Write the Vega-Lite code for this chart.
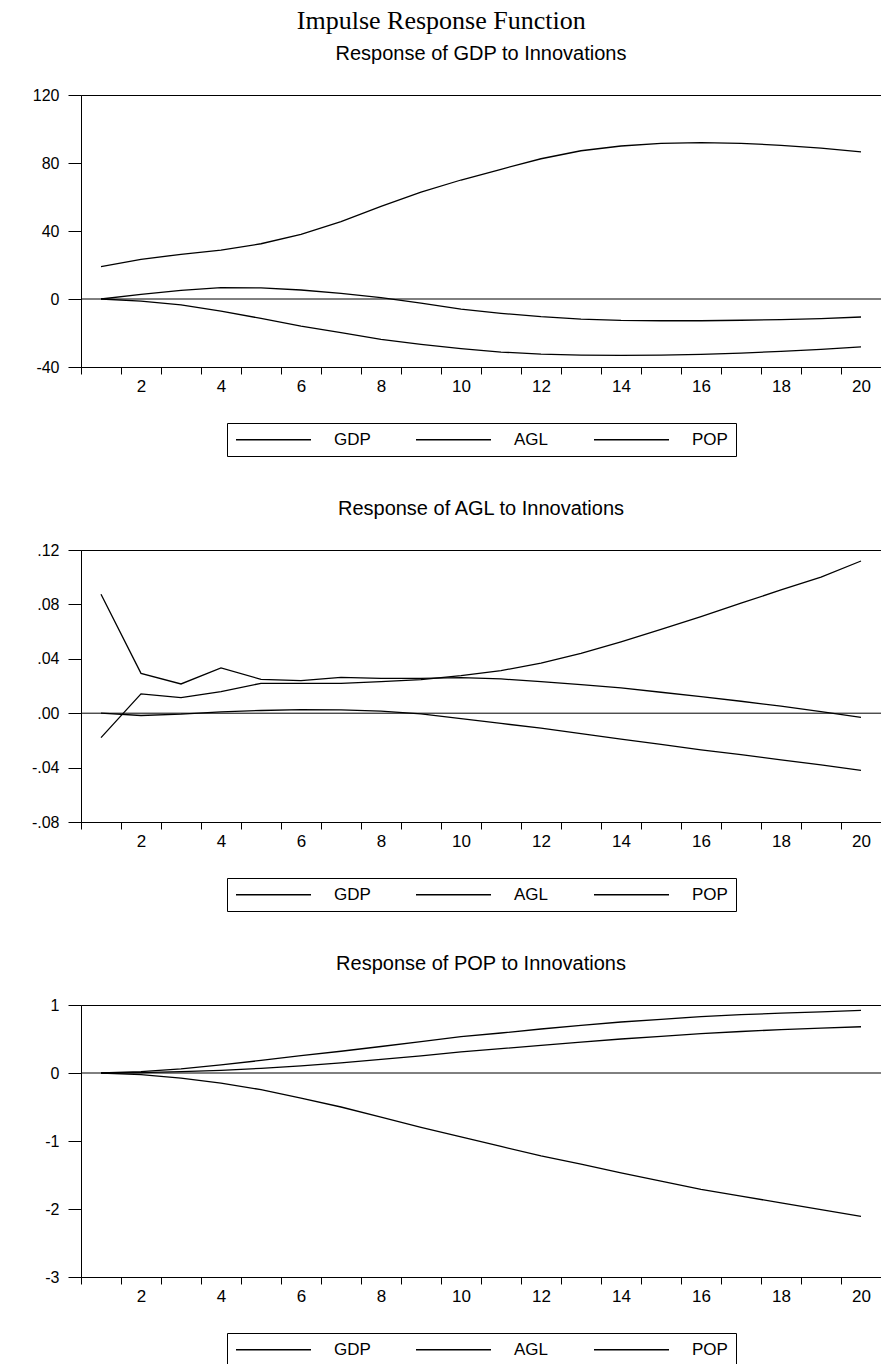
{
  "$schema": "https://vega.github.io/schema/vega-lite/v6.json",
  "background": "white",
  "padding": {"left": 0, "top": 7, "right": 1, "bottom": 0},
  "title": {"text": "Impulse Response Function", "font": "Liberation Serif", "fontSize": 26, "fontWeight": "normal", "color": "black", "anchor": "middle", "frame": "bounds", "offset": 10},
  "config": {
    "view": {"stroke": "black", "strokeWidth": 1},
    "title": {"font": "Liberation Sans", "fontSize": 20, "fontWeight": "normal", "color": "black", "anchor": "middle", "baseline": "alphabetic", "offset": 23},
    "axis": {"domainColor": "black", "domainWidth": 1, "tickColor": "black", "tickWidth": 1, "labelColor": "black", "labelFont": "Liberation Sans", "grid": false, "title": null},
    "axisY": {"tickSize": 13, "labelPadding": 9, "labelFontSize": 16, "minExtent": 80, "maxExtent": 80},
    "axisX": {"tickSize": 7, "labelPadding": 4, "labelFontSize": 17, "labelAngle": 0, "tickBand": "extent", "labelExpr": "datum.value % 2 == 0 ? datum.label : ''"},
    "legend": {"orient": "bottom", "direction": "horizontal", "columns": 3, "title": null, "symbolType": "M-5,0H5", "symbolSize": 225, "symbolOffset": 30, "symbolStrokeWidth": 1.3, "symbolStrokeColor": "black", "symbolFillColor": "transparent", "strokeColor": "black", "fillColor": "white", "padding": 8, "labelFont": "Liberation Sans", "labelFontSize": 17, "labelColor": "black", "labelOffset": 52, "columnPadding": 42, "offset": 29, "layout": {"bottom": {"anchor": "middle"}}},
    "line": {"strokeWidth": 1.3}
  },
  "resolve": {"scale": {"color": "independent"}, "legend": {"color": "independent"}},
  "datasets": {
    "gdp": [
      {"period": 1, "shock": "GDP", "value": 19.0}, {"period": 2, "shock": "GDP", "value": 23.3}, {"period": 3, "shock": "GDP", "value": 26.3}, {"period": 4, "shock": "GDP", "value": 28.8}, {"period": 5, "shock": "GDP", "value": 32.5},
      {"period": 6, "shock": "GDP", "value": 38.0}, {"period": 7, "shock": "GDP", "value": 45.5}, {"period": 8, "shock": "GDP", "value": 54.5}, {"period": 9, "shock": "GDP", "value": 62.8}, {"period": 10, "shock": "GDP", "value": 70.0},
      {"period": 11, "shock": "GDP", "value": 76.3}, {"period": 12, "shock": "GDP", "value": 82.5}, {"period": 13, "shock": "GDP", "value": 87.2}, {"period": 14, "shock": "GDP", "value": 90.0}, {"period": 15, "shock": "GDP", "value": 91.6},
      {"period": 16, "shock": "GDP", "value": 92.0}, {"period": 17, "shock": "GDP", "value": 91.6}, {"period": 18, "shock": "GDP", "value": 90.4}, {"period": 19, "shock": "GDP", "value": 88.8}, {"period": 20, "shock": "GDP", "value": 86.5},
      {"period": 1, "shock": "AGL", "value": 0}, {"period": 2, "shock": "AGL", "value": 2.7}, {"period": 3, "shock": "AGL", "value": 5.1}, {"period": 4, "shock": "AGL", "value": 6.7}, {"period": 5, "shock": "AGL", "value": 6.5},
      {"period": 6, "shock": "AGL", "value": 5.3}, {"period": 7, "shock": "AGL", "value": 3.3}, {"period": 8, "shock": "AGL", "value": 0.8}, {"period": 9, "shock": "AGL", "value": -2.4}, {"period": 10, "shock": "AGL", "value": -5.9},
      {"period": 11, "shock": "AGL", "value": -8.4}, {"period": 12, "shock": "AGL", "value": -10.4}, {"period": 13, "shock": "AGL", "value": -11.8}, {"period": 14, "shock": "AGL", "value": -12.6}, {"period": 15, "shock": "AGL", "value": -12.8},
      {"period": 16, "shock": "AGL", "value": -12.8}, {"period": 17, "shock": "AGL", "value": -12.5}, {"period": 18, "shock": "AGL", "value": -12.1}, {"period": 19, "shock": "AGL", "value": -11.5}, {"period": 20, "shock": "AGL", "value": -10.6},
      {"period": 1, "shock": "POP", "value": 0}, {"period": 2, "shock": "POP", "value": -1.2}, {"period": 3, "shock": "POP", "value": -3.5}, {"period": 4, "shock": "POP", "value": -7.1}, {"period": 5, "shock": "POP", "value": -11.4},
      {"period": 6, "shock": "POP", "value": -15.9}, {"period": 7, "shock": "POP", "value": -19.8}, {"period": 8, "shock": "POP", "value": -23.7}, {"period": 9, "shock": "POP", "value": -26.7}, {"period": 10, "shock": "POP", "value": -29.2},
      {"period": 11, "shock": "POP", "value": -31.2}, {"period": 12, "shock": "POP", "value": -32.4}, {"period": 13, "shock": "POP", "value": -33.0}, {"period": 14, "shock": "POP", "value": -33.2}, {"period": 15, "shock": "POP", "value": -33.0},
      {"period": 16, "shock": "POP", "value": -32.6}, {"period": 17, "shock": "POP", "value": -31.8}, {"period": 18, "shock": "POP", "value": -30.8}, {"period": 19, "shock": "POP", "value": -29.6}, {"period": 20, "shock": "POP", "value": -28.2}
    ],
    "agl": [
      {"period": 1, "shock": "GDP", "value": -0.018}, {"period": 2, "shock": "GDP", "value": 0.0142}, {"period": 3, "shock": "GDP", "value": 0.0115}, {"period": 4, "shock": "GDP", "value": 0.0159}, {"period": 5, "shock": "GDP", "value": 0.022},
      {"period": 6, "shock": "GDP", "value": 0.022}, {"period": 7, "shock": "GDP", "value": 0.022}, {"period": 8, "shock": "GDP", "value": 0.0232}, {"period": 9, "shock": "GDP", "value": 0.0247}, {"period": 10, "shock": "GDP", "value": 0.0276},
      {"period": 11, "shock": "GDP", "value": 0.0313}, {"period": 12, "shock": "GDP", "value": 0.0369}, {"period": 13, "shock": "GDP", "value": 0.044}, {"period": 14, "shock": "GDP", "value": 0.0525}, {"period": 15, "shock": "GDP", "value": 0.0616},
      {"period": 16, "shock": "GDP", "value": 0.071}, {"period": 17, "shock": "GDP", "value": 0.0809}, {"period": 18, "shock": "GDP", "value": 0.0906}, {"period": 19, "shock": "GDP", "value": 0.1001}, {"period": 20, "shock": "GDP", "value": 0.1119},
      {"period": 1, "shock": "AGL", "value": 0.0875}, {"period": 2, "shock": "AGL", "value": 0.0293}, {"period": 3, "shock": "AGL", "value": 0.0215}, {"period": 4, "shock": "AGL", "value": 0.0333}, {"period": 5, "shock": "AGL", "value": 0.0249},
      {"period": 6, "shock": "AGL", "value": 0.024}, {"period": 7, "shock": "AGL", "value": 0.0264}, {"period": 8, "shock": "AGL", "value": 0.0256}, {"period": 9, "shock": "AGL", "value": 0.0256}, {"period": 10, "shock": "AGL", "value": 0.0262},
      {"period": 11, "shock": "AGL", "value": 0.0252}, {"period": 12, "shock": "AGL", "value": 0.0232}, {"period": 13, "shock": "AGL", "value": 0.021}, {"period": 14, "shock": "AGL", "value": 0.0186}, {"period": 15, "shock": "AGL", "value": 0.0154},
      {"period": 16, "shock": "AGL", "value": 0.0122}, {"period": 17, "shock": "AGL", "value": 0.0088}, {"period": 18, "shock": "AGL", "value": 0.0052}, {"period": 19, "shock": "AGL", "value": 0.0012}, {"period": 20, "shock": "AGL", "value": -0.003},
      {"period": 1, "shock": "POP", "value": 0}, {"period": 2, "shock": "POP", "value": -0.0017}, {"period": 3, "shock": "POP", "value": -0.0007}, {"period": 4, "shock": "POP", "value": 0.001}, {"period": 5, "shock": "POP", "value": 0.002},
      {"period": 6, "shock": "POP", "value": 0.0027}, {"period": 7, "shock": "POP", "value": 0.0025}, {"period": 8, "shock": "POP", "value": 0.0015}, {"period": 9, "shock": "POP", "value": -0.0005}, {"period": 10, "shock": "POP", "value": -0.004},
      {"period": 11, "shock": "POP", "value": -0.0075}, {"period": 12, "shock": "POP", "value": -0.011}, {"period": 13, "shock": "POP", "value": -0.015}, {"period": 14, "shock": "POP", "value": -0.019}, {"period": 15, "shock": "POP", "value": -0.023},
      {"period": 16, "shock": "POP", "value": -0.027}, {"period": 17, "shock": "POP", "value": -0.0305}, {"period": 18, "shock": "POP", "value": -0.0343}, {"period": 19, "shock": "POP", "value": -0.038}, {"period": 20, "shock": "POP", "value": -0.042}
    ],
    "pop": [
      {"period": 1, "shock": "GDP", "value": 0}, {"period": 2, "shock": "GDP", "value": 0.02}, {"period": 3, "shock": "GDP", "value": 0.06}, {"period": 4, "shock": "GDP", "value": 0.12}, {"period": 5, "shock": "GDP", "value": 0.185},
      {"period": 6, "shock": "GDP", "value": 0.255}, {"period": 7, "shock": "GDP", "value": 0.32}, {"period": 8, "shock": "GDP", "value": 0.39}, {"period": 9, "shock": "GDP", "value": 0.46}, {"period": 10, "shock": "GDP", "value": 0.534},
      {"period": 11, "shock": "GDP", "value": 0.588}, {"period": 12, "shock": "GDP", "value": 0.647}, {"period": 13, "shock": "GDP", "value": 0.7}, {"period": 14, "shock": "GDP", "value": 0.75}, {"period": 15, "shock": "GDP", "value": 0.79},
      {"period": 16, "shock": "GDP", "value": 0.83}, {"period": 17, "shock": "GDP", "value": 0.857}, {"period": 18, "shock": "GDP", "value": 0.88}, {"period": 19, "shock": "GDP", "value": 0.9}, {"period": 20, "shock": "GDP", "value": 0.92},
      {"period": 1, "shock": "AGL", "value": 0}, {"period": 2, "shock": "AGL", "value": 0.006}, {"period": 3, "shock": "AGL", "value": 0.02}, {"period": 4, "shock": "AGL", "value": 0.04}, {"period": 5, "shock": "AGL", "value": 0.068},
      {"period": 6, "shock": "AGL", "value": 0.105}, {"period": 7, "shock": "AGL", "value": 0.15}, {"period": 8, "shock": "AGL", "value": 0.2}, {"period": 9, "shock": "AGL", "value": 0.253}, {"period": 10, "shock": "AGL", "value": 0.31},
      {"period": 11, "shock": "AGL", "value": 0.358}, {"period": 12, "shock": "AGL", "value": 0.406}, {"period": 13, "shock": "AGL", "value": 0.455}, {"period": 14, "shock": "AGL", "value": 0.5}, {"period": 15, "shock": "AGL", "value": 0.54},
      {"period": 16, "shock": "AGL", "value": 0.578}, {"period": 17, "shock": "AGL", "value": 0.61}, {"period": 18, "shock": "AGL", "value": 0.638}, {"period": 19, "shock": "AGL", "value": 0.66}, {"period": 20, "shock": "AGL", "value": 0.68},
      {"period": 1, "shock": "POP", "value": 0}, {"period": 2, "shock": "POP", "value": -0.025}, {"period": 3, "shock": "POP", "value": -0.075}, {"period": 4, "shock": "POP", "value": -0.15}, {"period": 5, "shock": "POP", "value": -0.245},
      {"period": 6, "shock": "POP", "value": -0.37}, {"period": 7, "shock": "POP", "value": -0.5}, {"period": 8, "shock": "POP", "value": -0.65}, {"period": 9, "shock": "POP", "value": -0.8}, {"period": 10, "shock": "POP", "value": -0.94},
      {"period": 11, "shock": "POP", "value": -1.08}, {"period": 12, "shock": "POP", "value": -1.22}, {"period": 13, "shock": "POP", "value": -1.34}, {"period": 14, "shock": "POP", "value": -1.47}, {"period": 15, "shock": "POP", "value": -1.59},
      {"period": 16, "shock": "POP", "value": -1.71}, {"period": 17, "shock": "POP", "value": -1.81}, {"period": 18, "shock": "POP", "value": -1.91}, {"period": 19, "shock": "POP", "value": -2.01}, {"period": 20, "shock": "POP", "value": -2.11}
    ]
  },
  "vconcat": [
    {
      "width": 800, "height": 272,
      "title": {"text": "Response of GDP to Innovations"},
      "layer": [
        {"data": {"values": [{}]}, "mark": {"type": "rule", "color": "black", "strokeWidth": 1}, "encoding": {"y": {"datum": 0, "type": "quantitative"}}},
        {
          "data": {"name": "gdp"},
          "mark": {"type": "line", "color": "black"},
          "encoding": {
            "x": {"field": "period", "type": "ordinal", "scale": {"type": "band", "paddingInner": 0, "paddingOuter": 0}},
            "y": {"field": "value", "type": "quantitative", "scale": {"domain": [-40, 120], "nice": false, "zero": false}, "axis": {"values": [-40, 0, 40, 80, 120], "labelExpr": "replace(format(datum.value, 'd'), '\u2212', '-')"}},
            "color": {"field": "shock", "type": "nominal", "scale": {"domain": ["GDP", "AGL", "POP"], "range": ["black", "black", "black"]}}
          }
        }
      ]
    },
    {
      "width": 800, "height": 272,
      "title": {"text": "Response of AGL to Innovations"},
      "layer": [
        {"data": {"values": [{}]}, "mark": {"type": "rule", "color": "black", "strokeWidth": 1}, "encoding": {"y": {"datum": 0, "type": "quantitative"}}},
        {
          "data": {"name": "agl"},
          "mark": {"type": "line", "color": "black"},
          "encoding": {
            "x": {"field": "period", "type": "ordinal", "scale": {"type": "band", "paddingInner": 0, "paddingOuter": 0}},
            "y": {"field": "value", "type": "quantitative", "scale": {"domain": [-0.08, 0.12], "nice": false, "zero": false}, "axis": {"values": [-0.08, -0.04, 0, 0.04, 0.08, 0.12], "labelExpr": "replace(replace(format(datum.value, '.2f'), '0.', '.'), '\u2212', '-')"}},
            "color": {"field": "shock", "type": "nominal", "scale": {"domain": ["GDP", "AGL", "POP"], "range": ["black", "black", "black"]}}
          }
        }
      ]
    },
    {
      "width": 800, "height": 272,
      "title": {"text": "Response of POP to Innovations"},
      "layer": [
        {"data": {"values": [{}]}, "mark": {"type": "rule", "color": "black", "strokeWidth": 1}, "encoding": {"y": {"datum": 0, "type": "quantitative"}}},
        {
          "data": {"name": "pop"},
          "mark": {"type": "line", "color": "black"},
          "encoding": {
            "x": {"field": "period", "type": "ordinal", "scale": {"type": "band", "paddingInner": 0, "paddingOuter": 0}},
            "y": {"field": "value", "type": "quantitative", "scale": {"domain": [-3, 1], "nice": false, "zero": false}, "axis": {"values": [-3, -2, -1, 0, 1], "labelExpr": "replace(format(datum.value, 'd'), '\u2212', '-')"}},
            "color": {"field": "shock", "type": "nominal", "scale": {"domain": ["GDP", "AGL", "POP"], "range": ["black", "black", "black"]}}
          }
        }
      ]
    }
  ],
  "bounds": "flush",
  "spacing": 183
}
